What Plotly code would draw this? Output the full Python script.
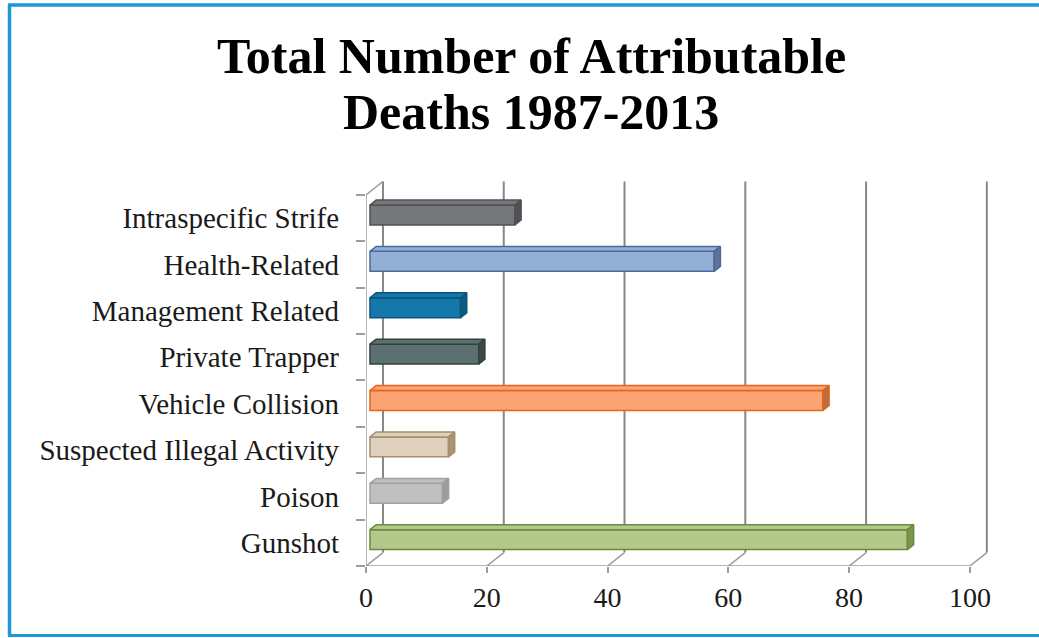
import plotly.graph_objects as go

# Data: categories listed bottom to top
categories = ["Gunshot", "Poison", "Suspected Illegal Activity", "Vehicle Collision",
              "Private Trapper", "Management Related", "Health-Related", "Intraspecific Strife"]
deaths = [89, 12, 13, 75, 18, 15, 57, 24]

front_colors = ["#B3C88B", "#C0C0C0", "#DDD1BC", "#FBA373",
                "#5B7071", "#1479AA", "#94AFD6", "#75777A"]
edge_colors = ["#6B8A3C", "#A2A2A2", "#A68D6C", "#E2661C",
               "#34413F", "#0B557B", "#4C6A98", "#4F5154"]
side_colors = ["#7A9650", "#9C9C9C", "#AD9474", "#B86E40",
               "#3B4948", "#0D5B83", "#5F739A", "#4E5053"]

x_ticks = [0, 20, 40, 60, 80, 100]
title_lines = ["Total Number of Attributable", "Deaths 1987-2013"]

# Page / plot-area geometry (pixels)
W, H = 1039, 638
M_L, M_R, M_T, M_B = 366, 51, 181, 72
X_RANGE = [0, 103]
Y_RANGE = [-0.5, 7.8]
PW = W - M_L - M_R
PH = H - M_T - M_B

# Depth of the 3-D box expressed in axis units
DX, DY = 2.81, 0.29
# Bar slab occupies this fraction of the depth
D0, D1 = 0.235, 0.60
BAR_H = 0.43

GRID = "#878787"
AXIS = "#9C9C9C"
FONT = "Liberation Serif"


def px_x(p):
    return (p - M_L) / PW


def px_y(p):
    return (H - M_B - p) / PH


fig = go.Figure()

n = len(categories)
b0 = D0 * DX
wx, wy = (D1 - D0) * DX, (D1 - D0) * DY

# Front faces of the bars
fig.add_trace(go.Bar(
    y=[i + D0 * DY for i in range(n)],
    x=deaths,
    base=[b0] * n,
    orientation="h",
    width=BAR_H,
    marker=dict(color=front_colors, line=dict(color=edge_colors, width=1.5)),
    showlegend=False,
    hoverinfo="skip",
))

# Top and end faces of each bar
for i, v in enumerate(deaths):
    yc = i + D0 * DY
    yt, yb = yc + BAR_H / 2, yc - BAR_H / 2
    top_x = [b0, b0 + v, b0 + v + wx, b0 + wx, b0]
    top_y = [yt, yt, yt + wy, yt + wy, yt]
    fig.add_trace(go.Scatter(
        x=top_x, y=top_y, mode="lines", fill="toself",
        fillcolor=front_colors[i], line=dict(color=edge_colors[i], width=1.5),
        showlegend=False, hoverinfo="skip"))
    side_x = [b0 + v, b0 + v, b0 + v + wx, b0 + v + wx, b0 + v]
    side_y = [yb, yt, yt + wy, yb + wy, yb]
    fig.add_trace(go.Scatter(
        x=side_x, y=side_y, mode="lines", fill="toself",
        fillcolor=side_colors[i], line=dict(color=edge_colors[i], width=1.5),
        showlegend=False, hoverinfo="skip"))

# Box walls, floor and gridlines
shapes = []
y_lo, y_hi = -0.5, n - 0.5
for v in x_ticks:
    shapes.append(dict(type="line", xref="x", yref="y", layer="below",
                       x0=v + DX, x1=v + DX, y0=y_lo + DY, y1=y_hi + DY,
                       line=dict(color=GRID, width=2)))
    shapes.append(dict(type="line", xref="x", yref="y", layer="below",
                       x0=v, x1=v + DX, y0=y_lo, y1=y_lo + DY,
                       line=dict(color=AXIS, width=1.5)))
shapes.append(dict(type="line", xref="x", yref="y", layer="below",
                   x0=x_ticks[0], x1=x_ticks[-1], y0=y_lo, y1=y_lo,
                   line=dict(color=AXIS, width=1.5)))
shapes.append(dict(type="line", xref="x", yref="y", layer="below",
                   x0=0, x1=0, y0=y_lo, y1=y_hi,
                   line=dict(color=AXIS, width=1.5)))
shapes.append(dict(type="line", xref="x", yref="y", layer="below",
                   x0=0, x1=DX, y0=y_hi, y1=y_hi + DY,
                   line=dict(color=AXIS, width=1.5)))

# Blue frame around the chart (open on the right)
FRAME = "#1C9AD6"
shapes.append(dict(type="line", xref="paper", yref="paper",
                   x0=px_x(9.5), x1=px_x(9.5), y0=px_y(5), y1=px_y(636),
                   line=dict(color=FRAME, width=3.5)))
shapes.append(dict(type="line", xref="paper", yref="paper",
                   x0=px_x(8), x1=px_x(1045), y0=px_y(5), y1=px_y(5),
                   line=dict(color=FRAME, width=3.5)))
shapes.append(dict(type="line", xref="paper", yref="paper",
                   x0=px_x(8), x1=px_x(1045), y0=px_y(635.5), y1=px_y(635.5),
                   line=dict(color=FRAME, width=3)))

# Two-line bold title
title_y = [56, 112]
annotations = [
    dict(text="<b>%s</b>" % line, xref="paper", yref="paper",
         x=px_x(531), y=px_y(yp), xanchor="center", yanchor="middle",
         showarrow=False, font=dict(family=FONT, size=50, color="#000000"))
    for line, yp in zip(title_lines, title_y)
]

fig.update_layout(
    width=W, height=H,
    margin=dict(l=M_L, r=M_R, t=M_T, b=M_B, pad=0),
    paper_bgcolor="white", plot_bgcolor="white",
    showlegend=False,
    shapes=shapes,
    annotations=annotations,
    xaxis=dict(range=X_RANGE, tickvals=x_ticks, ticktext=[str(t) for t in x_ticks],
               showgrid=False, zeroline=False, showline=False,
               ticks="outside", ticklen=6, tickwidth=1.5, tickcolor=AXIS,
               tickfont=dict(family=FONT, size=28, color="#1a1a1a"),
               fixedrange=True),
    yaxis=dict(range=Y_RANGE, tickvals=list(range(n)), ticktext=categories,
               showgrid=False, zeroline=False, showline=False, ticks="",
               ticklabelstandoff=26,
               tickfont=dict(family=FONT, size=29, color="#1a1a1a"),
               fixedrange=True),
    yaxis2=dict(range=Y_RANGE, overlaying="y", side="left",
                tickvals=[k - 0.5 for k in range(n + 1)],
                showticklabels=False, showgrid=False, zeroline=False,
                showline=False, ticks="outside", ticklen=9, tickwidth=1.5,
                tickcolor=AXIS, fixedrange=True),
)

# Empty trace on the second y axis so its boundary ticks are drawn
fig.add_trace(go.Scatter(x=[None], y=[None], yaxis="y2", showlegend=False,
                         hoverinfo="skip"))

fig.write_html("out.html")
